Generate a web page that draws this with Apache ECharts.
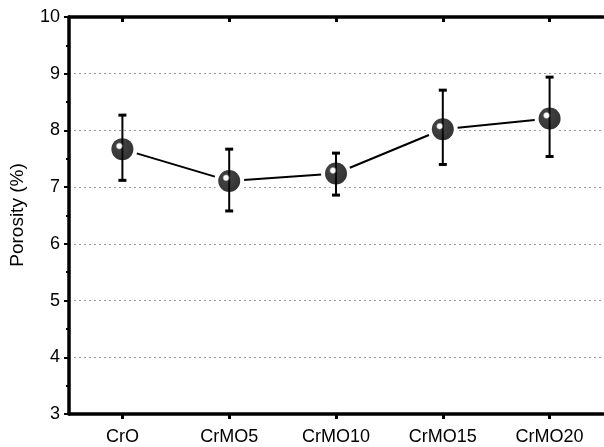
<!DOCTYPE html>
<html>
<head>
<meta charset="utf-8">
<script src="https://cdn.jsdelivr.net/npm/echarts@6/dist/echarts.min.js"></script>
<style>html,body{margin:0;padding:0;background:#fff;overflow:hidden;}#c{width:604px;height:447px;}</style>
</head>
<body>
<div id="c"></div>
<script>
const categories = ['CrO', 'CrMO5', 'CrMO10', 'CrMO15', 'CrMO20'];
const porosity = [7.67, 7.11, 7.24, 8.02, 8.21];
const errLow = [7.12, 6.58, 6.86, 7.40, 7.54];
const errHigh = [8.27, 7.67, 7.60, 8.71, 8.94];
const yTicks = [3, 4, 5, 6, 7, 8, 9, 10];
const yTitle = 'Porosity (%)';

const FONT = '"Liberation Sans", Arial, sans-serif';
const chart = echarts.init(document.getElementById('c'));
const errData = categories.map((c, i) => [i, errLow[i], errHigh[i]]);

chart.setOption({
  animation: false,
  backgroundColor: '#fff',
  grid: { left: 69, top: 17, right: 1, bottom: 33, containLabel: false, show: false },
  graphic: [{
    type: 'text', x: 18, y: 215, rotation: Math.PI / 2,
    style: { text: yTitle, fill: '#000', font: '19px "Liberation Sans", Arial, sans-serif', textAlign: 'center', textVerticalAlign: 'middle' }
  }],
  xAxis: [{
    type: 'category', data: categories, position: 'bottom', boundaryGap: true,
    axisLine: { show: true, lineStyle: { color: '#000', width: 3.5 } },
    axisTick: { show: true, alignWithLabel: true, inside: false, length: 5, lineStyle: { color: '#000', width: 3 } },
    axisLabel: { color: '#000', fontSize: 18, fontFamily: FONT, margin: 14 },
    splitLine: { show: false }
  }, {
    type: 'category', data: categories, position: 'top', boundaryGap: true,
    axisLine: { show: true, lineStyle: { color: '#000', width: 3.5 } },
    axisTick: { show: true, alignWithLabel: true, inside: true, length: 5, lineStyle: { color: '#000', width: 3 } },
    axisLabel: { show: false },
    splitLine: { show: false }
  }],
  yAxis: {
    type: 'value', min: yTicks[0], max: yTicks[yTicks.length - 1], interval: 1,
    axisLine: { show: true, lineStyle: { color: '#000', width: 3.5 } },
    axisTick: { show: true, inside: false, length: 5, lineStyle: { color: '#000', width: 2 } },
    minorTick: { show: true, splitNumber: 2, length: 3, lineStyle: { color: '#000', width: 2 } },
    axisLabel: { color: '#000', fontSize: 18, fontFamily: FONT, margin: 9 },
    splitLine: { show: true, lineStyle: { color: '#999', width: 1, type: [2, 3] } }
  },
  series: [{
    type: 'line', data: porosity, z: 2,
    symbol: 'circle', symbolSize: 30,
    itemStyle: { color: '#fff', borderWidth: 0 },
    lineStyle: { color: '#000', width: 2 }
  }, {
    type: 'custom', data: errData, z: 3,
    renderItem: function (params, api) {
      const x = api.value(0);
      const lo = api.coord([x, api.value(1)]);
      const hi = api.coord([x, api.value(2)]);
      const w = 4;
      return { type: 'group', children: [
        { type: 'line', shape: { x1: lo[0], y1: lo[1], x2: hi[0], y2: hi[1] }, style: { stroke: '#000', lineWidth: 2 } },
        { type: 'line', shape: { x1: lo[0] - w, y1: lo[1], x2: lo[0] + w, y2: lo[1] }, style: { stroke: '#000', lineWidth: 3 } },
        { type: 'line', shape: { x1: hi[0] - w, y1: hi[1], x2: hi[0] + w, y2: hi[1] }, style: { stroke: '#000', lineWidth: 3 } }
      ] };
    }
  }, {
    type: 'scatter', data: porosity, z: 4,
    symbol: 'circle', symbolSize: 22,
    itemStyle: {
      color: new echarts.graphic.RadialGradient(0.36, 0.36, 0.7, [
        { offset: 0, color: '#fff' },
        { offset: 0.14, color: '#fff' },
        { offset: 0.24, color: '#111' },
        { offset: 1, color: '#000' }
      ])
    }
  }]
});
</script>
</body>
</html>
